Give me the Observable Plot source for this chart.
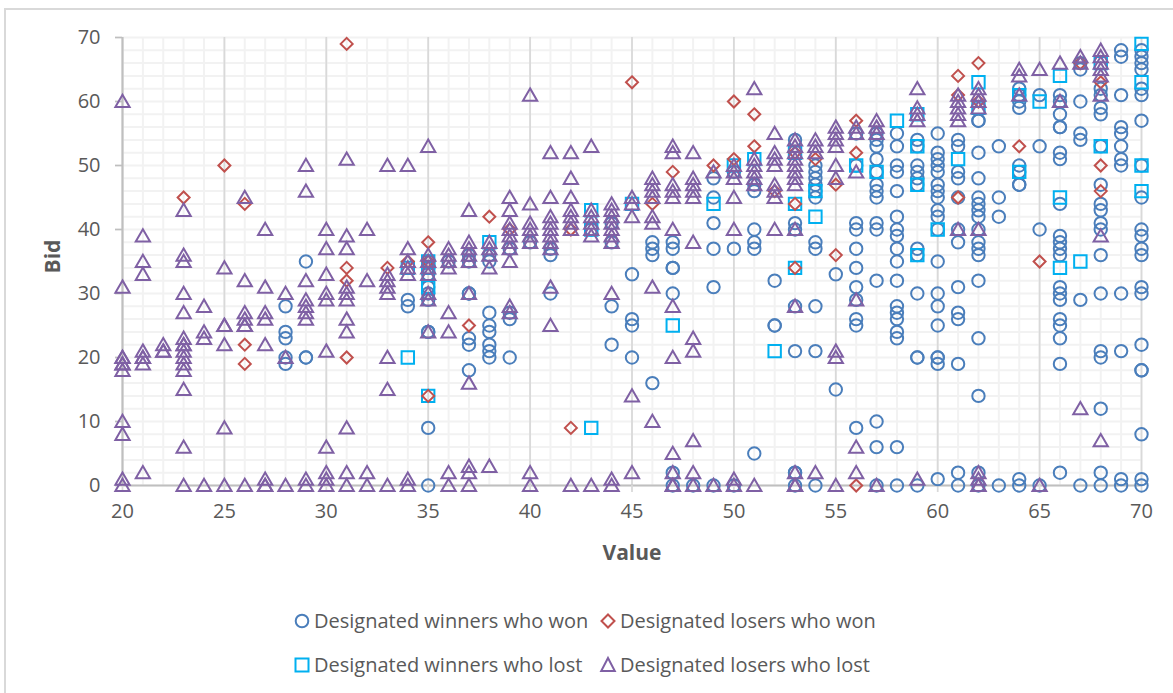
<!DOCTYPE html>
<html><head><meta charset="utf-8">
<script src="https://cdn.jsdelivr.net/npm/d3@7"></script>
<script src="https://cdn.jsdelivr.net/npm/@observablehq/plot@0.6"></script>
<style>
html,body{margin:0;padding:0;background:#fff;width:1173px;height:693px;overflow:hidden}
#wrap{position:relative;width:1173px;height:693px;font-family:"Open Sans",sans-serif}
#frame{position:absolute;left:4px;top:8px;right:-4px;bottom:-4px;border:2px solid #d9d9d9}
#chart{position:absolute;left:0;top:0}
.leg{position:absolute;font-size:20px;color:#595959;line-height:24px;white-space:nowrap}
.leg svg{position:absolute;left:-12px;top:3px;overflow:visible}
</style></head><body>
<div id="wrap"><div id="frame"></div><div id="chart"></div></div>
<script>
const winnersWon = [
 [28,28,24,23,20,19],[29,35,20,20],[34,29,28],[35,35,34,33,31,30,29,24,24,9,0],[36,35],[37,36,35,30,30,23,22,18],
 [38,36,35,27,25,24,22,21,20],[39,37,27,26,20],[40,38],[41,37,36,30],[43,40],[44,41,38,28,22],[45,33,26,25,20],
 [46,38,37,36,16],[47,38,37,34,34,30,2,0],[48,0],[49,48,45,41,37,31,0],[50,49,37,0],[51,47,46,40,38,37,5],[52,32,25,25],
 [53,54,41,40,28,21,2,2,0],[54,50,49,48,47,46,45,38,37,28,21,0],[55,33,15],
 [56,55,50,41,40,37,34,31,29,26,25,9],[57,55,54,53,51,49,47,46,45,41,40,32,10,6,0],
 [58,55,53,50,49,46,42,40,39,37,35,32,28,27,26,24,23,6,0],[59,54,53,50,49,48,47,37,36,30,20,20,0],
 [60,55,52,51,50,49,47,46,45,43,42,40,35,30,28,25,20,20,19,1],[61,54,53,49,48,45,40,38,31,27,26,19,2,0],
 [62,57,57,52,48,45,44,43,42,40,38,37,36,32,23,14,2,0],[63,53,45,42,0],[64,62,61,60,59,50,49,47,47,1,0],
 [65,61,53,40,0],[66,61,60,58,56,56,52,51,44,39,38,37,36,31,30,29,26,25,23,19,2],
 [67,66,65,60,55,54,29,0],[68,62,61,59,58,53,47,44,43,41,40,36,30,21,20,12,2,0],
 [69,68,67,61,56,55,53,51,50,30,21,1,0],[70,68,67,66,65,62,61,57,50,45,40,39,37,36,31,30,22,18,18,8,1,0]
];
const winnersLost = [
 [34,34,20],[35,35,34,31,14],[38,38],[43,43,40,9],[45,44],[47,25],[49,44],[50,50],[51,51],[52,21],[53,52,44,34],
 [54,46,42],[56,50],[57,49],[58,57],[59,58,53,47,36],[60,40],[61,51],[62,63,59],[64,61,49],[65,60],[66,64,45,34],
 [67,35],[68,66,53],[70,69,63,50,46]
];
const losersWon = [
 [23,45],[25,50],[26,44,22,19],[31,69,34,32,20],[33,34],[34,35],[35,38,35,14],[37,25],[38,42],[39,40],[42,40,9],
 [45,63],[46,44],[47,49],[49,50],[50,60,51],[51,58,53],[52,46],[53,52,44,34],[54,51],[55,47,36],[56,57,52,0],
 [61,64,61,45],[62,66,60],[64,53],[65,35],[67,66],[68,63,50,46]
];
const losersLost = [
 [20,60,31,20,20,19,19,18,10,8,1,0],[21,39,35,33,21,20,20,19,2],[22,22,21,21],
 [23,43,36,35,30,27,23,22,22,21,20,19,18,15,6,0],[24,28,24,23,0],[25,34,25,25,22,9,0],
 [26,45,32,27,26,25,25,0],[27,40,31,27,26,22,1,0,0],[28,30,20,0],[29,50,46,32,29,28,27,26,1,0],
 [30,40,37,33,30,29,21,6,2,1,0],[31,51,39,37,31,30,29,26,24,9,2,0],[32,40,32,2,0],
 [33,50,33,32,31,30,20,15,0],[34,50,37,35,34,33,1,0],[35,53,36,35,34,33,30,29,24],
 [36,37,36,35,34,27,24,2,0],[37,43,38,37,36,35,30,16,3,2,0],[38,38,37,36,34,3],
 [39,45,43,41,40,39,38,37,35,28,27],[40,61,44,41,40,39,38,2,0],[41,52,45,42,41,40,39,38,37,31,25],
 [42,52,48,45,43,42,41,40,0],[43,53,43,42,41,40,39,0],[44,44,43,42,41,40,39,38,30,1,0],[45,45,44,42,14,2],
 [46,48,47,46,45,42,41,31,10],[47,53,52,47,46,45,40,28,20,5,2,0,0],[48,52,48,47,46,45,38,23,21,7,2,0],
 [49,49,0],[50,50,49,48,45,40,1,0],[51,62,51,50,49,48,47,0],[52,55,52,51,50,47,46,45,40],
 [53,54,53,52,51,50,49,48,47,40,28,2,0,0],[54,54,53,52,2],[55,56,55,54,53,50,48,21,20,0],
 [56,56,55,49,29,6,2],[57,57,56,55,0],[59,62,59,58,57,1],[61,61,60,59,58,57,40],[62,62,61,60,59,40,2,1,0,0],
 [64,65,64,61],[65,65,0],[66,66,60],[67,67,66,12],[68,68,67,66,65,64,61,39,7]
];
const xMajor = [20,25,30,35,40,45,50,55,60,65,70];
const xMinor = d3.range(20,71);
const yMinor = d3.range(0,71,2);
const yMajor = [0,10,20,30,40,50,60,70];
const toPoints = rows => rows.flatMap(([value,...bids]) => bids.map(bid => ({value,bid})));
const blue="#4a7ebb", cyan="#00b0f0", red="#c0504d", purple="#7f60a4";
const dots = (rows,symbol,r,stroke,dy=0) => Plot.dot(toPoints(rows),{x:"value",y:"bid",symbol,r,stroke,dy,strokeWidth:2,fill:"none"});
const chart = Plot.plot({
  width:1173,height:600,marginLeft:122,marginRight:32,marginTop:37,marginBottom:115,
  style:{fontFamily:"'Open Sans',sans-serif",background:"transparent",overflow:"visible"},
  x:{domain:[20,70]},y:{domain:[0,70]},
  marks:[
    Plot.ruleY(yMinor,{y:d=>d,stroke:"#f2f2f2",strokeWidth:2}),
    Plot.ruleX(xMinor,{x:d=>d,stroke:"#f2f2f2",strokeWidth:2}),
    Plot.ruleX(xMajor,{x:d=>d,stroke:"#d9d9d9",strokeWidth:1.75}),
    Plot.ruleX([20],{x:d=>d,stroke:"#bfbfbf",strokeWidth:2}),
    Plot.ruleY([0],{y:d=>d,stroke:"#bfbfbf",strokeWidth:2}),
    Plot.axisX({ticks:xMajor,tickSize:7,tickPadding:11,stroke:"#d9d9d9",strokeWidth:1.75,fill:"#595959",fontSize:20,label:null,tickFormat:d=>d}),
    Plot.axisY({ticks:yMajor,tickSize:7,tickPadding:15,stroke:"#bfbfbf",strokeWidth:1.75,fill:"#595959",fontSize:20,label:null,tickFormat:d=>d}),
    Plot.text(["Value"],{frameAnchor:"bottom",dy:74,fill:"#595959",fontSize:21,fontWeight:"bold"}),
    Plot.text(["Bid"],{frameAnchor:"left",dx:-69,dy:-5,textAnchor:"middle",rotate:-90,fill:"#595959",fontSize:21,fontWeight:"bold"}),
    dots(winnersWon,"circle",6.2,blue),
    dots(winnersLost,"square",7,cyan),
    dots(losersWon,"diamond2",5.4,red),
    dots(losersLost,"triangle2",6.8,purple,1.5)
  ]
});
document.getElementById("chart").append(chart);
const legendItems = [
 ["Designated winners who won",314,609,'<circle r="6.3" cx="0" cy="9" fill="none" stroke="'+blue+'" stroke-width="2"/>'],
 ["Designated losers who won",620,609,'<path d="M0 2.5L6.5 9L0 15.5L-6.5 9Z" fill="none" stroke="'+red+'" stroke-width="2"/>'],
 ["Designated winners who lost",314,653,'<rect x="-6.5" y="2.5" width="13" height="13" fill="none" stroke="'+cyan+'" stroke-width="2"/>'],
 ["Designated losers who lost",620,653,'<path d="M0 2L6.8 15L-6.8 15Z" fill="none" stroke="'+purple+'" stroke-width="2"/>']
];
const wrap=document.getElementById("wrap");
for(const [t,x,y,s] of legendItems){
  const d=document.createElement("div");d.className="leg";d.style.left=x+"px";d.style.top=y+"px";
  d.innerHTML='<svg width="14" height="18">'+s+'</svg>'+t;
  wrap.append(d);
}
</script>
</body></html>
